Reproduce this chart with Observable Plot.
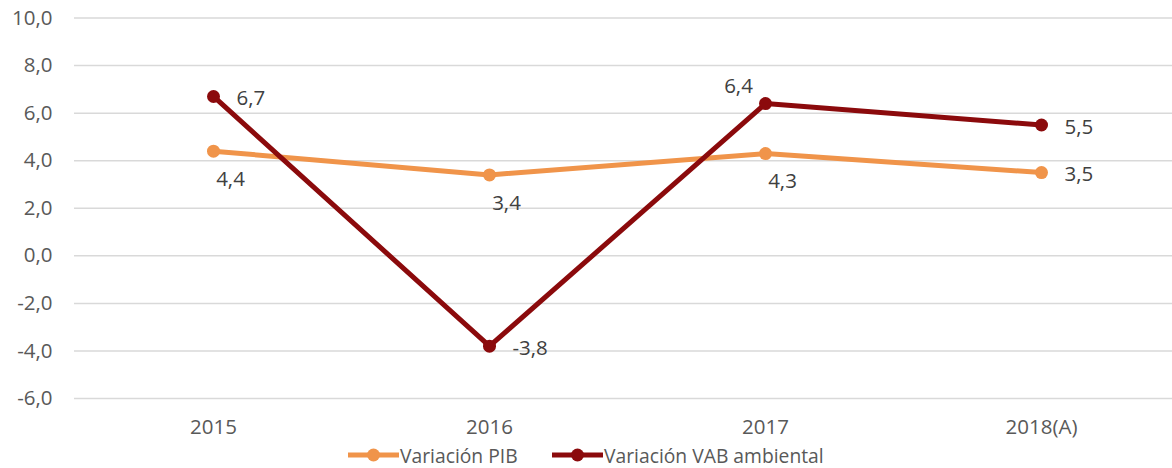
<!DOCTYPE html>
<html>
<head>
<meta charset="utf-8">
<script src="https://cdn.jsdelivr.net/npm/d3@7"></script>
<script src="https://cdn.jsdelivr.net/npm/@observablehq/plot@0.6"></script>
<style>
  html, body { margin: 0; padding: 0; background: #fff; }
  body { width: 1172px; height: 468px; overflow: hidden; font-family: "Open Sans", sans-serif; }
  #legend { height: 28px; position: relative; }
  .item { position: absolute; display: flex; align-items: center; font-size: 19.3px; color: #595959; top: 0; height: 30px; }
  .item svg { display: block; }
</style>
</head>
<body>
<div id="chart"></div>
<div id="legend"></div>
<script>
const years = ["2015", "2016", "2017", "2018(A)"];
const pib = [4.4, 3.4, 4.3, 3.5];
const vab = [6.7, -3.8, 6.4, 5.5];
const seriesNames = ["Variación PIB", "Variación VAB ambiental"];
const yTicks = [-6, -4, -2, 0, 2, 4, 6, 8, 10];

// label placement (style, not data)
const pibPlace = ["below", "below", "below", "right"];
const vabPlace = ["right", "right", "above", "right"];

const colors = {"Variación PIB": "#F0944A", "Variación VAB ambiental": "#8B0A0C"};
const fmt = v => d3.format(".1f")(v).replace(".", ",").replace("\u2212", "-");

const rows = [];
years.forEach((y, i) => rows.push({year: y, value: pib[i], series: seriesNames[0], place: pibPlace[i]}));
years.forEach((y, i) => rows.push({year: y, value: vab[i], series: seriesNames[1], place: vabPlace[i]}));

const offs = {
  right: {dx: 23, dy: 2, anchor: "start"},
  below: {dx: 17, dy: 28, anchor: "middle"},
  above: {dx: -27, dy: -17, anchor: "middle"}
};

const labelMarks = Object.entries(offs).map(([k, o]) =>
  Plot.text(rows.filter(d => d.place === k), {
    x: "year", y: "value", text: d => fmt(d.value),
    dx: o.dx, dy: o.dy, textAnchor: o.anchor,
    fill: "#404040", fontSize: 20.5
  })
);

const chart = Plot.plot({
  width: 1172,
  height: 440,
  marginLeft: 74,
  marginRight: 0,
  marginTop: 17.5,
  marginBottom: 42,
  style: {fontFamily: "Open Sans, sans-serif", fontSize: "20.5px", color: "#595959", background: "#fff"},
  x: {type: "point", domain: years, range: [212, 1042], padding: 0, label: null, tickSize: 0, tickPadding: 21},
  y: {domain: [-6, 10], ticks: yTicks, tickFormat: fmt, label: null, tickSize: 0, tickPadding: 22},
  marks: [
    Plot.ruleY(yTicks, {stroke: "#d9d9d9", strokeWidth: 1.5}),
    Plot.line(rows.filter(d => d.series === seriesNames[0]), {x: "year", y: "value", stroke: colors[seriesNames[0]], strokeWidth: 5}),
    Plot.line(rows.filter(d => d.series === seriesNames[1]), {x: "year", y: "value", stroke: colors[seriesNames[1]], strokeWidth: 5}),
    Plot.dot(rows, {x: "year", y: "value", fill: d => colors[d.series], r: 6.5}),
    ...labelMarks
  ]
});
document.getElementById("chart").appendChild(chart);

// legend
const legend = document.getElementById("legend");
const lefts = [348, 552];
seriesNames.forEach((s, i) => {
  const it = document.createElement("div");
  it.className = "item";
  it.style.left = lefts[i] + "px";
  it.innerHTML = `<svg width="51" height="14"><line x1="0" y1="7" x2="51" y2="7" stroke="${colors[s]}" stroke-width="5"/><circle cx="25.5" cy="7" r="6.5" fill="${colors[s]}"/></svg><span style="margin-left:1px">${s}</span>`;
  legend.appendChild(it);
});
</script>
</body>
</html>
